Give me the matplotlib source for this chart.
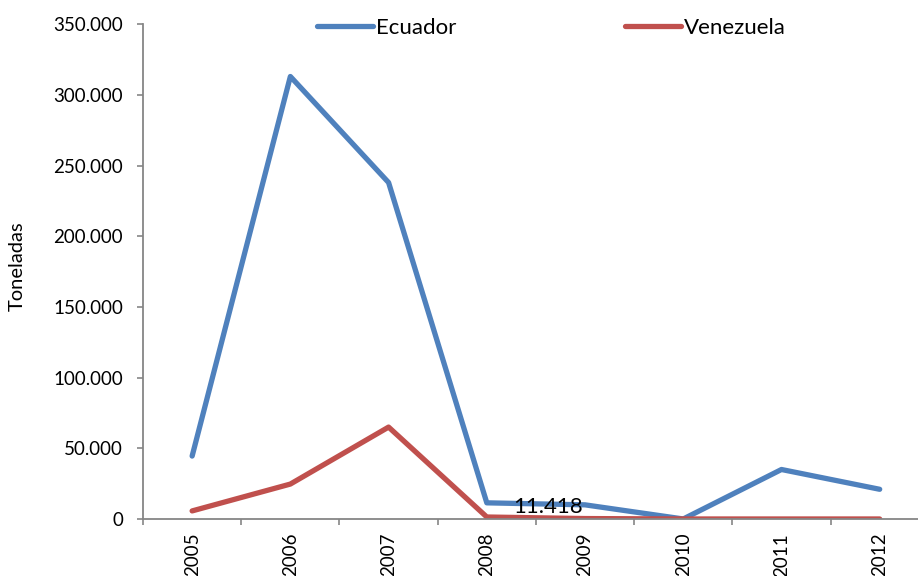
import numpy as np
import matplotlib
matplotlib.use('Agg')
import matplotlib.pyplot as plt
from matplotlib.ticker import FuncFormatter

years = ['2005', '2006', '2007', '2008', '2009', '2010', '2011', '2012']
ecuador = [44500, 313000, 238000, 11418, 10000, 0, 35000, 21000]
venezuela = [5700, 24700, 65000, 1400, 300, 0, 0, 0]
label_text = '11.418'

plt.rcParams['font.family'] = ['Lato', 'DejaVu Sans']


def thousands(v, pos):
    return '{:,.0f}'.format(v).replace(',', '.')


fig = plt.figure(figsize=(9.18, 5.76), dpi=100)
ax = fig.add_axes([0.1558, 0.099, 0.8442, 0.859])

x = np.arange(len(years))
ax.plot(x, ecuador, color='#4F81BD', lw=3.8, solid_capstyle='round', label='Ecuador')
ax.plot(x, venezuela, color='#C0504D', lw=3.8, solid_capstyle='round', label='Venezuela')

ax.annotate(label_text, xy=(3, ecuador[3]), xytext=(44, -3), textcoords='offset points',
            ha='center', va='center', fontsize=16)

ax.set_yticks(np.arange(0, 350001, 50000))
ax.yaxis.set_major_formatter(FuncFormatter(thousands))
ax.set_xticks(x)
ax.set_xticklabels(years, rotation=90, fontsize=13.5)
ax.set_xticks(np.arange(-0.5, 8, 1), minor=True)
ax.set_xlim(-0.5, 7.39)
ax.set_ylim(0, 350000)

ax.tick_params(axis='x', which='major', length=0, pad=10)
ax.tick_params(axis='x', which='minor', length=4.5, color='#868686', width=1.2)
ax.tick_params(axis='y', length=4.5, color='#868686', width=1.2, labelsize=13.5, pad=10)

for s in ['top', 'right']:
    ax.spines[s].set_visible(False)
for s in ['left', 'bottom']:
    ax.spines[s].set_color('#868686')
    ax.spines[s].set_linewidth(1.3)

ax.set_ylabel('Toneladas', fontsize=14.5)
ax.yaxis.set_label_coords(-0.151, 0.511)

fig.legend(loc='center left', bbox_to_anchor=(306 / 918, 1 - 28 / 576),
           bbox_transform=fig.transFigure, ncol=2, frameon=False, borderpad=0,
           fontsize=16, handlelength=2.5, handletextpad=0.15, columnspacing=7.6)

fig.savefig('out.png', dpi=100)
